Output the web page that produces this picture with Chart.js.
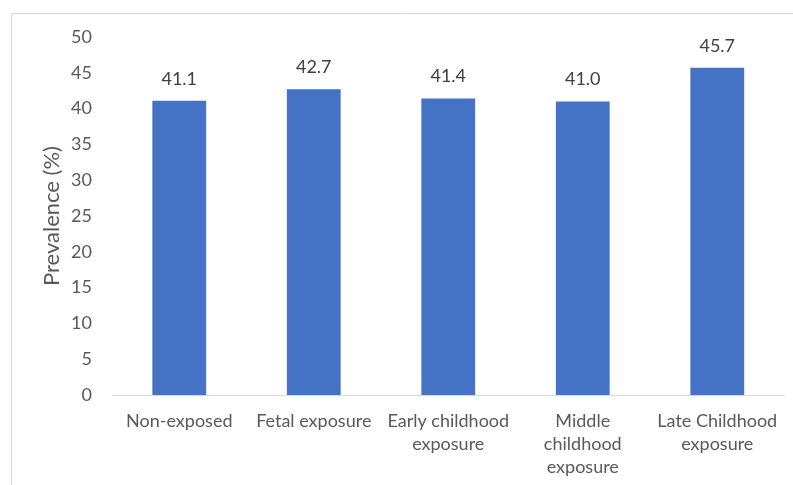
<!DOCTYPE html>
<html>
<head>
<meta charset="utf-8">
<script src="https://cdn.jsdelivr.net/npm/chart.js@4/dist/chart.umd.min.js"></script>
<style>
  html, body { margin: 0; padding: 0; background: #ffffff; }
  #wrap { width: 793px; height: 485px; }
</style>
</head>
<body>
<div id="wrap"><canvas id="chart" width="793" height="485"></canvas></div>
<script>
// Exposure groups and their prevalence values
const categories = [
  'Non-exposed',
  'Fetal exposure',
  ['Early childhood', 'exposure'],
  ['Middle', 'childhood', 'exposure'],
  ['Late Childhood', 'exposure']
];
const prevalence = [41.1, 42.7, 41.4, 41.0, 45.7];
const yTicks = [0, 5, 10, 15, 20, 25, 30, 35, 40, 45, 50];

const FONT = 'Lato, "Open Sans", sans-serif';
const FSIZE = 18;

// Outer frame of the chart box (top and left edges)
const framePlugin = {
  id: 'frame',
  beforeDraw(chart) {
    const ctx = chart.ctx;
    ctx.save();
    ctx.fillStyle = '#ffffff';
    ctx.fillRect(0, 0, chart.width, chart.height);
    ctx.strokeStyle = '#d9d9d9';
    ctx.lineWidth = 1;
    ctx.beginPath();
    ctx.moveTo(11.5, chart.height);
    ctx.lineTo(11.5, 13.5);
    ctx.lineTo(chart.width, 13.5);
    ctx.stroke();
    ctx.restore();
  }
};

// Value labels above each bar
const valueLabels = {
  id: 'valueLabels',
  afterDatasetsDraw(chart) {
    const ctx = chart.ctx;
    const meta = chart.getDatasetMeta(0);
    ctx.save();
    ctx.font = FSIZE + 'px ' + FONT;
    ctx.fillStyle = '#404040';
    ctx.textAlign = 'center';
    ctx.textBaseline = 'middle';
    meta.data.forEach((bar, i) => {
      ctx.fillText(prevalence[i].toFixed(1), bar.x, bar.y - 22);
    });
    ctx.restore();
  }
};

new Chart(document.getElementById('chart'), {
  type: 'bar',
  data: {
    labels: categories,
    datasets: [{
      data: prevalence,
      backgroundColor: '#4472C4',
      borderWidth: 0,
      categoryPercentage: 1,
      barPercentage: 0.4
    }]
  },
  options: {
    responsive: false,
    animation: false,
    devicePixelRatio: 1,
    layout: { padding: { left: 0, right: 8, top: 37, bottom: 0 } },
    plugins: {
      legend: { display: false },
      tooltip: { enabled: false }
    },
    scales: {
      x: {
        grid: { display: false, drawTicks: false },
        border: { display: true, color: '#d9d9d9', width: 1 },
        ticks: {
          color: '#595959',
          font: { family: FONT, size: FSIZE, lineHeight: 1.28 },
          padding: 15,
          maxRotation: 0,
          autoSkip: false
        },
        afterFit(scale) { scale.height = 90; }
      },
      y: {
        min: 0,
        max: 50,
        afterBuildTicks(scale) { scale.ticks = yTicks.map(v => ({ value: v })); },
        grid: { display: false, drawTicks: false },
        border: { display: false },
        ticks: {
          color: '#595959',
          font: { family: FONT, size: FSIZE },
          padding: 20
        },
        title: {
          display: true,
          text: 'Prevalence (%)',
          color: '#595959',
          font: { family: FONT, size: 22 },
          padding: { top: 39, bottom: 0 }
        },
        afterFit(scale) { scale.width = 112; }
      }
    }
  },
  plugins: [framePlugin, valueLabels]
});
</script>
</body>
</html>
